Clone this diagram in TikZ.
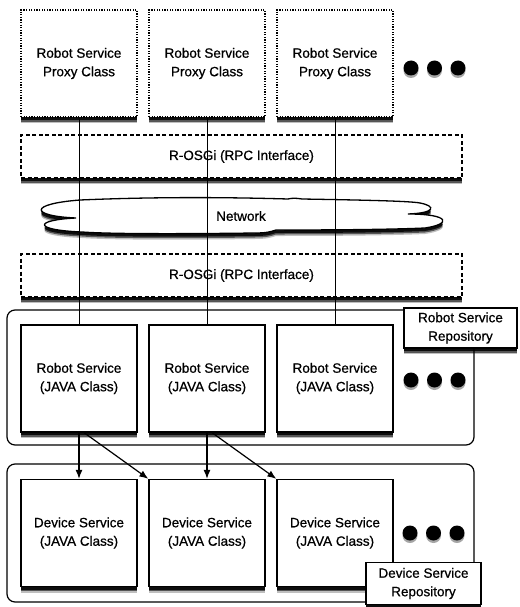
\documentclass[tikz,border=0pt]{standalone}
\usepackage{fontspec}
\setmainfont{Liberation Sans}[BoldFont={Liberation Sans}, BoldFeatures={FakeBold=0.7}]
\usetikzlibrary{shadows,arrows.meta}
\begin{document}
\begin{tikzpicture}[x=1pt,y=-1pt,
  font=\fontsize{13.5}{18.5}\selectfont\bfseries,
  shadowed/.style={
    general shadow={shadow xshift=0pt, shadow yshift=-6pt, fill=black, opacity=0.25},
    general shadow={shadow xshift=0pt, shadow yshift=-4.5pt, fill=black, opacity=0.55},
    general shadow={shadow xshift=0pt, shadow yshift=-3pt, fill=black, opacity=0.85}},
  box/.style={draw, fill=white, line width=1.3pt, minimum width=116pt, minimum height=107pt, align=center, inner sep=0pt, shadowed},
  proxy/.style={box, line width=1.1pt, dash pattern=on 1.2pt off 1.4pt},
  rosgi/.style={draw, fill=white, line width=1.2pt, dash pattern=on 4pt off 2.5pt, minimum width=441pt, minimum height=43pt, inner sep=0pt, shadowed},
  repo/.style={draw, line width=1.2pt, rounded corners=8pt, minimum width=467pt, inner sep=0pt},
  label/.style={draw, fill=white, line width=1.3pt, align=center, inner sep=0pt, shadowed},
  dot/.style={circle, fill=black, minimum size=15pt, inner sep=0pt,
    general shadow={shadow xshift=0pt, shadow yshift=-2.5pt, fill=black, opacity=0.35}},
  link/.style={line width=1pt},
  arr/.style={line width=1.2pt, -{Latex[length=9pt,width=7pt]}}
]
\useasboundingbox (0,0) rectangle (519,607);

% repositories
\node[repo, minimum height=135pt] (rrepo) at (240.5,377.5) {};
\node[repo, minimum height=138pt] (drepo) at (240.5,533) {};

% proxy classes
\node[proxy] (p1) at (79,63.5) {Robot Service\\Proxy Class};
\node[proxy] (p2) at (207,63.5) {Robot Service\\Proxy Class};
\node[proxy] (p3) at (335,63.5) {Robot Service\\Proxy Class};
\node[dot] (pd1) at (411,68) {};
\node[dot] (pd2) at (434.5,68) {};
\node[dot] (pd3) at (458,68) {};

% R-OSGi
\node[rosgi] (o1) at (241.5,156.5) {R-OSGi (RPC Interface)};
\node[rosgi] (o2) at (241.5,275.5) {R-OSGi (RPC Interface)};

% network cloud
\draw[line width=1.3pt, fill=white, shadowed]
  (76,218)
  .. controls (30,216) and (28,204) .. (80,200)
  .. controls (150,197) and (220,197) .. (288,199)
  .. controls (292,198) and (296,198) .. (302,199)
  .. controls (360,200) and (410,201) .. (420,203)
  .. controls (436,206) and (436,213) .. (408,214)
  .. controls (450,214) and (452,224) .. (425,228)
  .. controls (380,230) and (300,230) .. (276,230)
  .. controls (270,232) and (266,233) .. (255,233)
  .. controls (180,234) and (110,234) .. (82,232)
  .. controls (32,230) and (34,220) .. (76,218) -- cycle;
\node (net) at (241,216) {Network};

% robot services
\node[box] (r1) at (79,378.5) {Robot Service\\(JAVA Class)};
\node[box] (r2) at (207,378.5) {Robot Service\\(JAVA Class)};
\node[box] (r3) at (335,378.5) {Robot Service\\(JAVA Class)};
\node[dot] (rd1) at (411,380) {};
\node[dot] (rd2) at (434.5,380) {};
\node[dot] (rd3) at (458,380) {};
\node[label, minimum width=113pt, minimum height=40pt] (rlab) at (460.5,328) {Robot Service\\Repository};

% device services
\node[box] (d1) at (79,533) {Device Service\\(JAVA Class)};
\node[box] (d2) at (207,533) {Device Service\\(JAVA Class)};
\node[box] (d3) at (335,533) {Device Service\\(JAVA Class)};
\node[dot] (dd1) at (410,533) {};
\node[dot] (dd2) at (433.5,533) {};
\node[dot] (dd3) at (457,533) {};
\node[label, minimum width=115pt, minimum height=42pt] (dlab) at (423.5,583.5) {Device Service\\Repository};

% connections
\draw[link] (p1) -- (r1);
\draw[link] (p2) -- (r2);
\draw[link] (p3) -- (r3);

\draw[arr] (r1) -- (d1);
\draw[arr] ([xshift=5pt]r1.south) -- (d2.north west);
\draw[arr] (r2) -- (d2);
\draw[arr] ([xshift=5pt]r2.south) -- (d3.north west);
\end{tikzpicture}
\end{document}
